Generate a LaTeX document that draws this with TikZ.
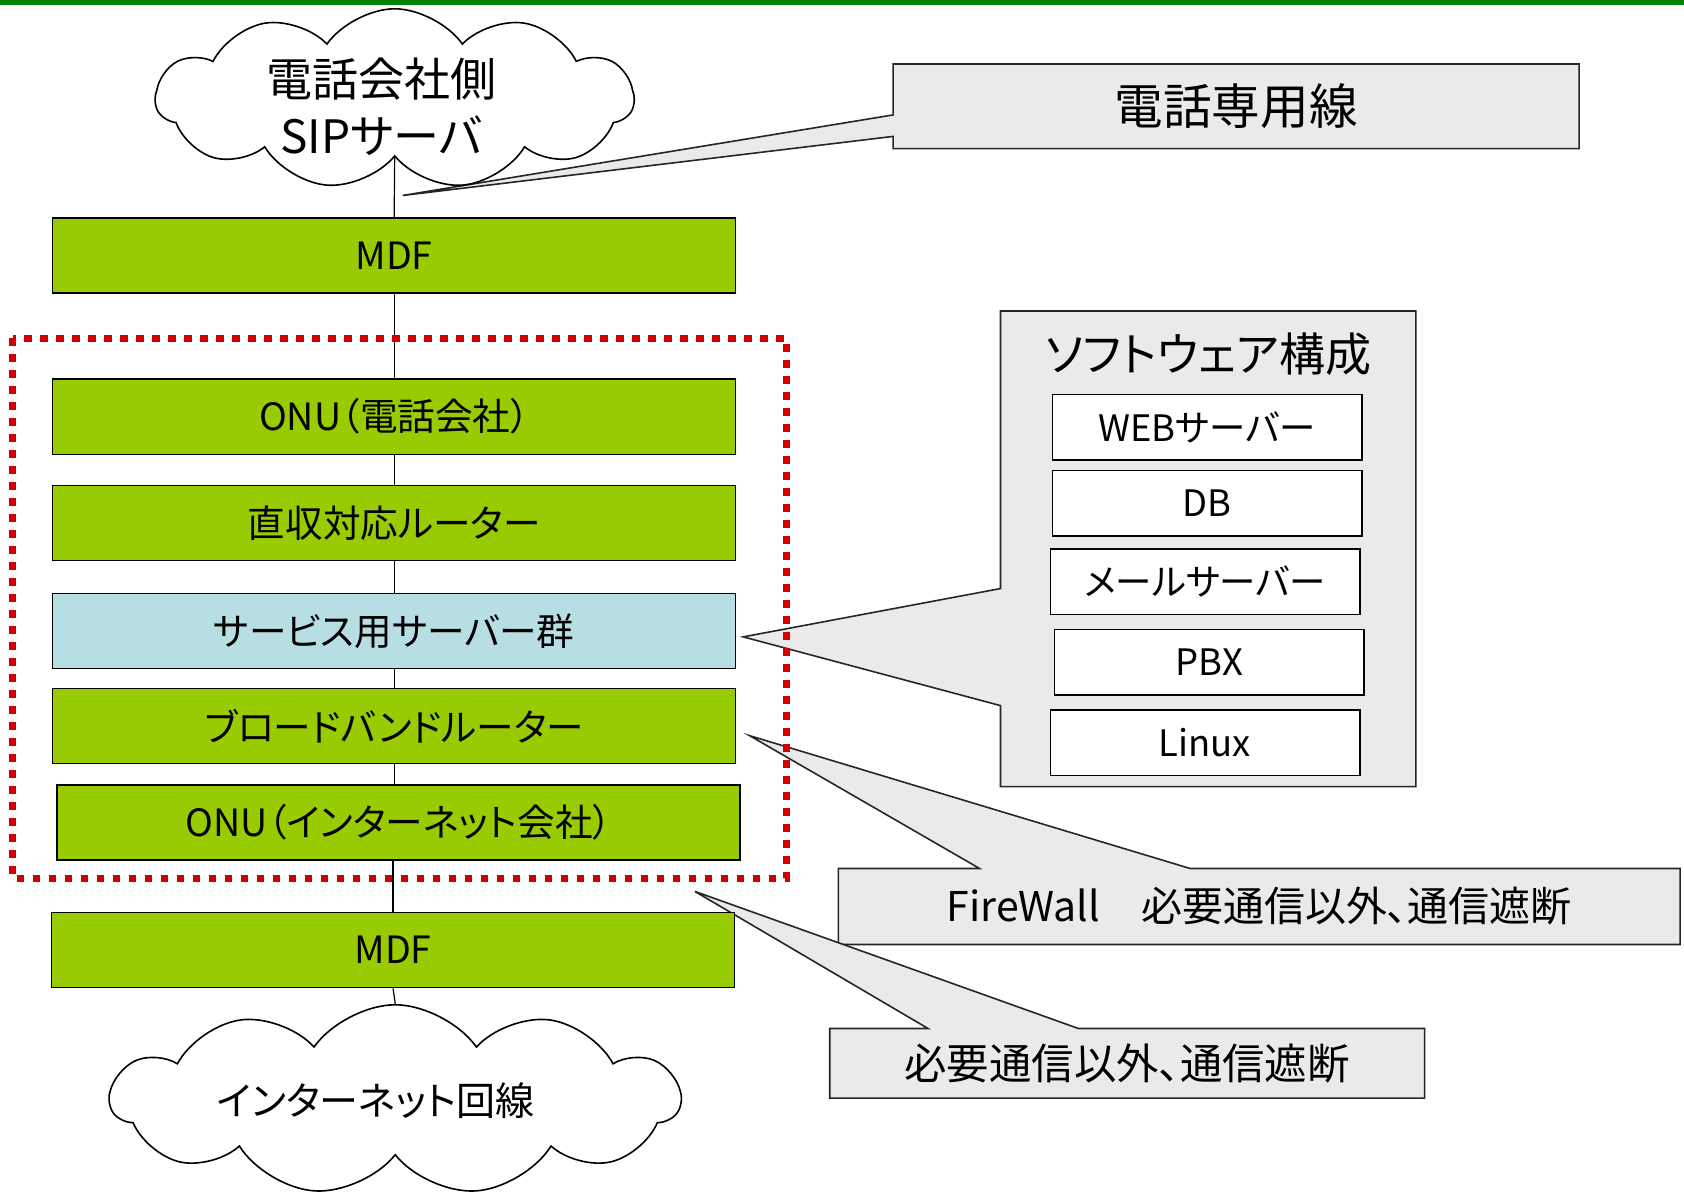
\documentclass[tikz,border=0pt]{standalone}
\usepackage{fontspec}
\setmainfont{Noto Sans CJK JP}[RawFeature=+palt]
\usetikzlibrary{shapes.symbols,backgrounds}
\definecolor{boxgreen}{RGB}{153,204,0}
\definecolor{boxblue}{RGB}{183,222,226}
\definecolor{notegray}{RGB}{234,234,234}
\definecolor{linegreen}{RGB}{0,128,0}
\definecolor{zonered}{RGB}{210,0,0}
\tikzset{
  unitbox/.style={draw, fill=boxgreen, line width=0.8pt, minimum width=341.5pt, minimum height=37.6pt, inner sep=0pt, font=\fontsize{18.8}{20}\selectfont},
  softitem/.style={draw, fill=white, line width=0.8pt, minimum width=154.7pt, minimum height=32.8pt, inner sep=0pt, font=\fontsize{18.2}{20}\selectfont},
  notebox/.style={inner sep=0pt, font=\fontsize{20.5}{22}\selectfont},
  noteshape/.style={draw=black!85, fill=notegray, line width=0.8pt},
  cloudshape/.style={cloud, draw, cloud puffs=11, cloud puff arc=110, line width=0.8pt, inner sep=0pt, cloud ignores aspect},
  wire/.style={line width=0.6pt},
  zone/.style={draw=zonered, line width=3.6pt, dash pattern=on 3.8pt off 4.2pt}
}
\begin{document}
\begin{tikzpicture}[x=0.537pt, y=-0.537pt]
\useasboundingbox (0,0) rectangle (1568,1113);
\fill [linegreen] (0,0) rectangle (1568,4.6);

\node (sipcloud) [cloudshape, minimum width=239pt, minimum height=90pt] at (367.5,92) {};
\node (siptext) [font=\fontsize{23}{28.5}\selectfont, align=center] at (355,99) {電話会社側\\SIPサーバ};
\node (netcloud) [cloudshape, minimum width=284.6pt, minimum height=95pt] at (368,1024) {};
\node (nettext) [font=\fontsize{19.5}{22}\selectfont] at (350,1025) {インターネット回線};

\node (mdfa) [unitbox] at (367,238) {MDF};
\node (onua) [unitbox] at (367,388) {ONU（電話会社）};
\node (router) [unitbox] at (367,487) {直収対応ルーター};
\node (servers) [unitbox, fill=boxblue] at (367,587.5) {サービス用サーバー群};
\node (bbrouter) [unitbox] at (367,676) {ブロードバンドルーター};
\node (onub) [unitbox] at (371,766) {ONU（インターネット会社）};
\node (mdfb) [unitbox] at (366,884.5) {MDF};

\draw [wire] (sipcloud.south) -- (mdfa.north);
\draw [wire] (mdfa) -- (onua);
\draw [wire] (onua) -- (router);
\draw [wire] (router) -- (servers);
\draw [wire] (servers) -- (bbrouter);
\draw [wire] (bbrouter.south) -- (bbrouter.south |- onub.north);
\draw [wire] (mdfb.north |- onub.south) -- (mdfb.north);
\draw [wire] (mdfb.south) -- (netcloud.north);

\node (linenote) [notebox, minimum width=342.6pt, minimum height=41.9pt, font=\fontsize{24.3}{26}\selectfont] at (1151,99) {電話専用線};
\coordinate (linetip) at (375,182);
\node (softbox) [minimum width=207.3pt, minimum height=237.4pt, inner sep=0pt] at (1125,511) {};
\coordinate (softtip) at (692,593);
\node (fwnote) [notebox, minimum width=420.5pt, minimum height=37.6pt] at (1172.5,844) {FireWall　必要通信以外、通信遮断};
\coordinate (fwtip) at (698,685);
\node (cutnote) [notebox, minimum width=297pt, minimum height=34.4pt, font=\fontsize{21.2}{23}\selectfont] at (1049.5,990) {必要通信以外、通信遮断};
\coordinate (cuttip) at (647,830);

\begin{scope}[on background layer]
\draw [noteshape] (linenote.west |- 0,127) -- (linenote.south west) -- (linenote.south east) -- (linenote.north east) -- (linenote.north west) -- (linenote.west |- 0,107) -- (linetip) -- cycle;
\draw [noteshape] (softbox.west |- 0,657) -- (softbox.south west) -- (softbox.south east) -- (softbox.north east) -- (softbox.north west) -- (softbox.west |- 0,548) -- (softtip) -- cycle;
\draw [noteshape] (fwnote.south west) -- (fwnote.north west) -- (fwnote.north west -| 912,0) -- (fwtip) -- (fwnote.north west -| 1108,0) -- (fwnote.north east) -- (fwnote.south east) -- cycle;
\draw [noteshape] (cutnote.south west) -- (cutnote.north west) -- (cutnote.north west -| 864,0) -- (cuttip) -- (cutnote.north west -| 1004,0) -- (cutnote.north east) -- (cutnote.south east) -- cycle;
\end{scope}

\node (softtitle) [font=\fontsize{23}{25}\selectfont] at (1125,330) {ソフトウェア構成};
\node (web) [softitem] at (1124,398) {WEBサーバー};
\node (db) [softitem] at (1124,468.5) {DB};
\node (mail) [softitem] at (1122,541.5) {メールサーバー};
\node (pbx) [softitem] at (1126,616.5) {PBX};
\node (linux) [softitem] at (1122,691.5) {Linux};

\draw [zone] (12,315) rectangle (732,818);
\end{tikzpicture}
\end{document}
